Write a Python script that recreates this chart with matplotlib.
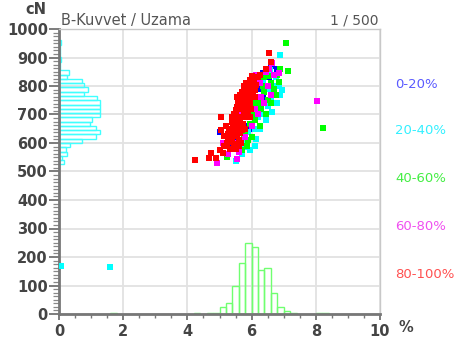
import matplotlib
matplotlib.use("Agg")
import matplotlib.pyplot as plt
from matplotlib.ticker import MultipleLocator
import numpy as np

# ---- scatter groups: elongation (%) vs. breaking force (cN) ----
blue_x = [5.01, 5.38, 6.78, 6.42, 5.64, 5.90, 6.10, 6.30, 5.80, 6.00, 6.20, 6.55,
          5.55, 6.35, 5.95, 6.15, 6.45, 5.98, 6.25, 5.70, 6.60, 5.60, 6.05, 6.35,
          5.45, 6.50, 5.85]
blue_y = [640, 587, 859, 847, 646, 690, 760, 790, 660, 735, 805, 830,
          615, 760, 650, 700, 800, 765, 725, 610, 870, 575, 790, 845,
          620, 860, 720]

cyan_x = [0.05, 1.60, 5.50, 5.70, 6.90, 6.80, 6.88, 6.95, 6.00, 6.10, 6.30, 6.50,
          6.60, 6.70, 5.85, 6.20, 6.40, 6.05, 5.95, 6.25, 6.55, 6.75, 6.45, 5.78,
          6.15, 6.35, 6.62, 5.90, 6.58, 6.10, 6.85, 6.30]
cyan_y = [170, 165, 538, 560, 908, 740, 770, 785, 622, 650, 700, 730,
          760, 800, 600, 690, 740, 700, 575, 650, 790, 830, 680, 585,
          615, 820, 710, 640, 855, 590, 800, 760]

green_x = [7.07, 7.14, 8.23, 5.22, 6.20, 6.40, 6.60, 6.80, 6.00, 5.80, 6.10, 6.30,
           6.50, 5.90, 6.70, 5.60, 6.25, 6.45, 6.05, 5.70, 6.55, 6.90, 5.95, 6.35,
           6.15, 5.85, 6.75, 6.60, 6.85, 6.00, 6.40, 5.75, 6.20]
green_y = [950, 854, 653, 550, 760, 780, 810, 840, 700, 640, 680, 720,
           750, 610, 790, 600, 660, 700, 740, 575, 835, 860, 665, 800,
           705, 590, 770, 740, 815, 620, 830, 620, 740]

magenta_x = [8.05, 6.65, 4.91, 5.12, 5.30, 5.50, 5.70, 5.90, 6.10, 6.30, 6.50, 6.70,
             5.45, 5.65, 5.85, 6.05, 6.25, 6.45, 5.60, 5.80, 6.00, 6.20, 6.40, 6.60,
             6.85, 5.35, 5.75, 6.15, 5.55, 5.25, 5.95, 6.55, 5.40, 5.90]
magenta_y = [748, 880, 531, 599, 620, 640, 660, 690, 720, 760, 800, 840,
             600, 700, 730, 770, 810, 850, 570, 620, 660, 700, 740, 770,
             845, 580, 760, 840, 545, 560, 800, 860, 650, 760]

red_x = [5.15, 5.30, 5.45, 5.60, 5.25, 5.50, 5.68,
         5.05, 5.20, 5.35, 5.50, 5.65, 5.80, 5.40, 5.58, 5.28, 5.72,
         5.45, 5.60, 5.75, 5.90, 5.55, 5.70, 5.85, 5.98, 5.65, 5.50,
         5.62, 5.78, 5.92, 6.05, 5.70, 5.85, 6.00, 6.12, 5.80, 5.95,
         5.82, 5.95, 6.08, 6.20, 6.00, 6.15, 6.25,
         6.55, 6.60, 6.45, 5.06, 4.24, 4.72, 4.68, 4.89, 5.02, 5.12,
         5.35, 5.55, 5.15, 5.42, 5.62, 5.75, 5.88, 5.58, 5.72, 5.88,
         6.02, 5.90, 5.48, 5.32, 5.78,
         5.40, 5.58, 5.70, 5.30, 5.52, 5.68, 5.82, 5.95, 5.65, 5.85,
         6.10, 5.75, 6.05, 5.45, 5.22, 5.62, 5.95, 6.10, 5.38, 5.55]
red_y = [590, 605, 595, 610, 620, 580, 600,
         645, 660, 640, 655, 635, 650, 675, 670, 630, 665,
         700, 690, 710, 700, 725, 735, 730, 720, 685, 715,
         750, 760, 755, 770, 780, 790, 795, 785, 745, 775,
         810, 820, 815, 830, 835, 805, 840,
         917, 885, 860, 690, 540, 566, 546, 546, 575, 565,
         615, 625, 625, 660, 655, 690, 715, 740, 755, 770,
         805, 800, 690, 580, 725,
         610, 645, 645, 650, 700, 720, 700, 740, 770, 750,
         800, 800, 825, 635, 600, 590, 690, 760, 690, 760]

group_labels = ["0-20%", "20-40%", "40-60%", "60-80%", "80-100%"]
group_colors = ["#0000ff", "#00ffff", "#00ff00", "#ff00ff", "#ff0000"]
label_colors = ["#5a5aff", "#33f0ff", "#44ee44", "#f050f0", "#ff5050"]

# ---- marginal histograms ----
# force histogram (drawn along the y axis), 15 cN bins
force_bin_start = [165, 525, 540, 555, 570, 585, 600, 615, 630, 645, 660, 675,
                   690, 705, 720, 735, 750, 765, 780, 795, 810, 825, 840, 855,
                   870, 885, 900, 915, 930, 945]
force_counts = [2, 4, 3, 7, 6, 10, 20, 32, 36, 32, 27, 29,
                36, 36, 36, 36, 33, 22, 25, 22, 20, 7, 9, 1,
                1, 2, 1, 1, 1, 2]
force_bin = 15
force_scale = 1 / 28.0     # counts -> % axis units

# elongation histogram (drawn along the x axis), 0.2 % bins
elong_bin_start = [1.6, 4.2, 4.6, 4.8, 5.0, 5.2, 5.4, 5.6, 5.8, 6.0, 6.2, 6.4,
                   6.6, 6.8, 7.0, 7.2, 8.0, 8.2]
elong_counts = [1, 1, 1, 2, 10, 16, 40, 72, 100, 94, 62, 64,
                30, 10, 4, 1, 1, 1]
elong_bin = 0.2
elong_scale = 2.5          # counts -> cN axis units

x_ticks = [0, 2, 4, 6, 8, 10]
y_ticks = list(range(0, 1001, 100))

W, H = 466, 345
fig = plt.figure(figsize=(W / 100, H / 100), dpi=100)
ax = fig.add_axes([59 / W, 1 - 314 / H, (380 - 59) / W, (314 - 29) / H])

ax.set_xlim(0, 10)
ax.set_ylim(0, 1000)

# grid
ax.set_axisbelow(True)
ax.grid(True, which="major", color="#e2e2e2", lw=1.3)

# histograms
ax.barh(force_bin_start, np.array(force_counts) * force_scale, height=force_bin,
        align="edge", fill=False, edgecolor="#40ffff", lw=1.0, zorder=2)
ax.bar(elong_bin_start, np.array(elong_counts) * elong_scale, width=elong_bin,
       align="edge", fill=False, edgecolor="#70ff70", lw=1.0, zorder=2)

# scatter groups
groups = [(blue_x, blue_y), (cyan_x, cyan_y), (green_x, green_y),
          (magenta_x, magenta_y), (red_x, red_y)]
for (gx, gy), col in zip(groups, group_colors):
    ax.scatter(gx, gy, s=15, marker="s", color=col, linewidths=0, zorder=3)

# spines
for side in ("top", "right"):
    ax.spines[side].set_color("#c8c8c8")
    ax.spines[side].set_linewidth(1.0)
for side in ("left", "bottom"):
    ax.spines[side].set_color("#777777")
    ax.spines[side].set_linewidth(2.0)

# ticks
tick_font = dict(fontsize=10.5, fontweight="bold", color="#444444")
ax.set_xticks(x_ticks)
ax.set_xticklabels([str(v) for v in x_ticks], **tick_font)
ax.set_yticks(y_ticks)
ax.set_yticklabels([str(v) for v in y_ticks], **tick_font)
ax.xaxis.set_minor_locator(MultipleLocator(0.5))
ax.yaxis.set_minor_locator(MultipleLocator(12.5))
ax.tick_params(axis="y", which="major", direction="out", length=7, width=1.2,
               color="#666666", pad=1)
ax.tick_params(axis="y", which="minor", direction="out", length=4, width=0.9,
               color="#888888")
ax.tick_params(axis="x", which="major", direction="out", length=4, width=1.2,
               color="#666666", pad=3)
ax.tick_params(axis="x", which="minor", direction="out", length=3, width=1.0,
               color="#777777")

# header texts
fig.text(36 / W, 1 - 9 / H, "cN", ha="center", va="center", **tick_font)
fig.text(61 / W, 1 - 20 / H, "B-Kuvvet / Uzama", ha="left", va="center",
         fontsize=10.5, color="#555555")
fig.text(378 / W, 1 - 20 / H, "1 / 500", ha="right", va="center",
         fontsize=10, color="#555555")
fig.text(406 / W, 1 - 328 / H, "%", ha="center", va="center", **tick_font)

# group legend on the right
label_rows = [84, 131, 178, 226, 274]
for lab, col, row in zip(group_labels, label_colors, label_rows):
    fig.text(395 / W, 1 - row / H, lab, ha="left", va="center",
             fontsize=9.5, color=col)

fig.savefig("out.png", dpi=100)
